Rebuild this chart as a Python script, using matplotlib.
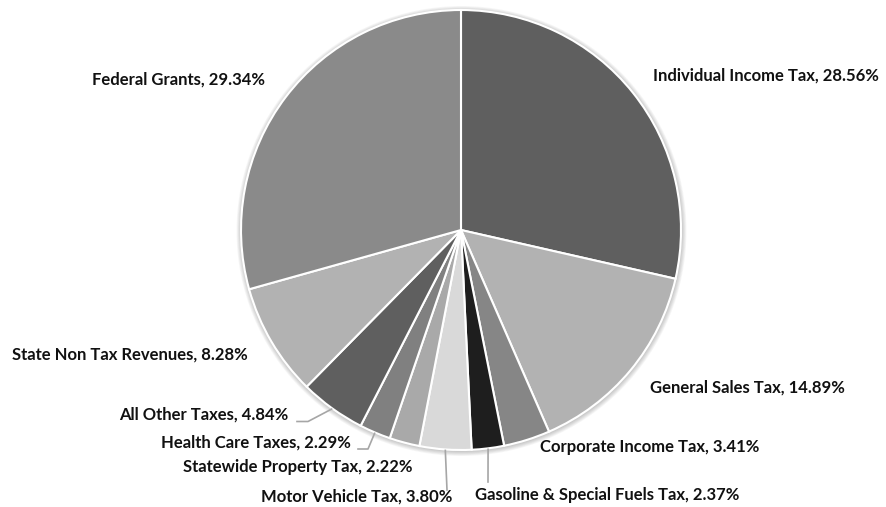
import numpy as np
import matplotlib
matplotlib.use("Agg")
from matplotlib import pyplot as plt
from matplotlib.patches import Circle

# slice data, clockwise from 12 o'clock
labels = ["Individual Income Tax", "General Sales Tax", "Corporate Income Tax",
          "Gasoline & Special Fuels Tax", "Motor Vehicle Tax", "Statewide Property Tax",
          "Health Care Taxes", "All Other Taxes", "State Non Tax Revenues", "Federal Grants"]
shares = [28.56, 14.89, 3.41, 2.37, 3.80, 2.22, 2.29, 4.84, 8.28, 29.34]
colors = ["#5f5f5f", "#b2b2b2", "#868686", "#1e1e1e", "#d9d9d9",
          "#a9a9a9", "#808080", "#5f5f5f", "#b2b2b2", "#8a8a8a"]

W, H = 886, 507
cx, cy, R = 461, 277, 220

# label left x / centre y (pixel, top-down)
lab_x = [653, 650, 540, 475, 261, 183, 161, 119, 12, 92]
lab_y = [76, 388, 447, 495, 497, 467, 443, 415, 355, 80]

# leader lines: slice index -> elbow points after the edge anchor (pixel, top-down)
leaders = {
    3: [(488, 482)],
    4: [(447, 490)],
    6: [(368, 449), (358, 449)],
    7: [(308, 421.5), (297, 421.5)],
}

fig = plt.figure(figsize=(W / 100, H / 100), dpi=100)
ax = fig.add_axes([0, 0, 1, 1])

# faint shadow round the pie
for k in range(6):
    ax.add_patch(Circle((cx + 0.5, cy - 1), R + 1 + k * 0.8, color="#000000",
                        alpha=0.035, lw=0, zorder=0))

wedges, _ = ax.pie(shares, colors=colors, startangle=90, counterclock=False,
                   center=(cx, cy), radius=R,
                   wedgeprops=dict(edgecolor="white", linewidth=1.5))
ax.set_xlim(0, W)
ax.set_ylim(0, H)
ax.axis("off")

for i, w in enumerate(wedges):
    txt = "%s, %.2f%%" % (labels[i], shares[i])
    ax.text(lab_x[i], H - lab_y[i], txt, ha="left", va="center",
            fontsize=12, fontweight="bold", family="Lato", color="#111111")
    if i in leaders:
        mid = np.deg2rad((w.theta1 + w.theta2) / 2)
        xs = [cx + (R + 1) * np.cos(mid)]
        ys = [cy + (R + 1) * np.sin(mid)]
        for px, py in leaders[i]:
            xs.append(px)
            ys.append(H - py)
        ax.plot(xs, ys, color="#a6a6a6", lw=1.2, zorder=1)

fig.savefig("out.png", dpi=100, facecolor="white")
